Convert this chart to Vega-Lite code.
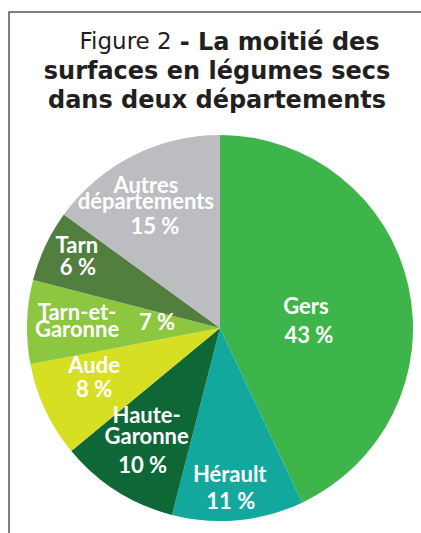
{
  "$schema": "https://vega.github.io/schema/vega-lite/v6.json",
  "autosize": {"type": "none"},
  "width": 422,
  "height": 632,
  "padding": {"left": 9, "top": 12, "right": -10, "bottom": -111},
  "background": "white",
  "view": {"stroke": "#555555", "strokeWidth": 1.5},
  "title": {
    "text": ["\u200b\u00a0\u00a0\u00a0\u00a0\u00a0\u00a0\u00a0\u00a0\u00a0\u00a0\u00a0\u00a0\u00a0\u00a0\u00a0- La moitié des", "surfaces en légumes secs", "dans deux départements"],
    "subtitle": "Figure 2\u00a0\u00a0\u00a0\u00a0\u00a0\u00a0\u00a0\u00a0\u00a0\u00a0\u00a0\u00a0\u00a0\u00a0\u00a0\u00a0\u00a0\u00a0\u00a0\u00a0\u00a0\u00a0\u00a0\u00a0\u00a0\u200b",
    "font": "DejaVu Sans",
    "fontSize": 24,
    "fontWeight": "bold",
    "color": "#231f20",
    "lineHeight": 29,
    "subtitleFont": "DejaVu Sans",
    "subtitleFontSize": 23,
    "subtitleFontWeight": "normal",
    "subtitleColor": "#231f20",
    "subtitlePadding": -82,
    "anchor": "middle",
    "frame": "group",
    "offset": -101,
    "dx": -3
  },
  "config": {
    "view": {"stroke": "#555555", "strokeWidth": 1.5},
    "text": {"font": "Lato", "fontSize": 22, "fontWeight": "bold", "fill": "white"}
  },
  "data": {
    "values": [
      {"nom": "Gers", "lignes": ["Gers"], "part": 43, "etiquette": "43 %", "ordre": 1},
      {"nom": "Hérault", "lignes": ["Hérault"], "part": 11, "etiquette": "11 %", "ordre": 2},
      {"nom": "Haute-Garonne", "lignes": ["Haute-", "Garonne"], "part": 10, "etiquette": "10 %", "ordre": 3},
      {"nom": "Aude", "lignes": ["Aude"], "part": 8, "etiquette": "8 %", "ordre": 4},
      {"nom": "Tarn-et-Garonne", "lignes": ["Tarn-et-", "Garonne"], "part": 7, "etiquette": "7 %", "ordre": 5},
      {"nom": "Tarn", "lignes": ["Tarn"], "part": 6, "etiquette": "6 %", "ordre": 6},
      {"nom": "Autres départements", "lignes": ["Autres", "départements"], "part": 15, "etiquette": "15 %", "ordre": 7}
    ]
  },
  "encoding": {
    "theta": {"field": "part", "type": "quantitative", "stack": true},
    "order": {"field": "ordre", "type": "quantitative"}
  },
  "layer": [
    {
      "mark": {"type": "arc", "outerRadius": 193},
      "encoding": {
        "color": {
          "field": "nom",
          "type": "nominal",
          "legend": null,
          "scale": {
            "domain": ["Gers", "Hérault", "Haute-Garonne", "Aude", "Tarn-et-Garonne", "Tarn", "Autres départements"],
            "range": ["#3db54a", "#13a89e", "#0e6737", "#d7df23", "#8dc63f", "#527f3f", "#bcbdc0"]
          }
        }
      }
    },
    {"mark": {"type": "text", "radius": 86, "dx": 2, "dy": 10, "baseline": "bottom"},
     "encoding": {"text": {"condition": {"test": "datum.ordre === 1", "field": "lignes", "type": "nominal"}, "value": ""}}},
    {"mark": {"type": "text", "radius": 86, "dx": 5, "dy": 34, "baseline": "alphabetic"},
     "encoding": {"text": {"condition": {"test": "datum.ordre === 1", "field": "etiquette", "type": "nominal"}, "value": ""}}},
    {"mark": {"type": "text", "radius": 167, "dx": -6, "dy": -7, "baseline": "bottom"},
     "encoding": {"text": {"condition": {"test": "datum.ordre === 2", "field": "lignes", "type": "nominal"}, "value": ""}}},
    {"mark": {"type": "text", "radius": 167, "dx": -5, "dy": 15, "baseline": "alphabetic"},
     "encoding": {"text": {"condition": {"test": "datum.ordre === 2", "field": "etiquette", "type": "nominal"}, "value": ""}}},
    {"mark": {"type": "text", "radius": 150, "dx": 7, "dy": -27, "baseline": "bottom", "lineHeight": 21},
     "encoding": {"text": {"condition": {"test": "datum.ordre === 3", "field": "lignes", "type": "nominal"}, "value": ""}}},
    {"mark": {"type": "text", "radius": 150, "dx": 3, "dy": 18, "baseline": "alphabetic"},
     "encoding": {"text": {"condition": {"test": "datum.ordre === 3", "field": "etiquette", "type": "nominal"}, "value": ""}}},
    {"mark": {"type": "text", "radius": 138, "dx": -1, "dy": -9, "baseline": "bottom"},
     "encoding": {"text": {"condition": {"test": "datum.ordre === 4", "field": "lignes", "type": "nominal"}, "value": ""}}},
    {"mark": {"type": "text", "radius": 138, "dx": -1, "dy": 10, "baseline": "alphabetic"},
     "encoding": {"text": {"condition": {"test": "datum.ordre === 4", "field": "etiquette", "type": "nominal"}, "value": ""}}},
    {"mark": {"type": "text", "radius": 143, "dx": 0, "dy": 1, "baseline": "bottom", "lineHeight": 17},
     "encoding": {"text": {"condition": {"test": "datum.ordre === 5", "field": "lignes", "type": "nominal"}, "value": ""}}},
    {"mark": {"type": "text", "radius": 63, "dx": 0, "dy": 4, "baseline": "alphabetic"},
     "encoding": {"text": {"condition": {"test": "datum.ordre === 5", "field": "etiquette", "type": "nominal"}, "value": ""}}},
    {"mark": {"type": "text", "radius": 156, "dx": -2, "dy": -4, "baseline": "bottom"},
     "encoding": {"text": {"condition": {"test": "datum.ordre === 6", "field": "lignes", "type": "nominal"}, "value": ""}}},
    {"mark": {"type": "text", "radius": 156, "dx": -1, "dy": 13, "baseline": "alphabetic"},
     "encoding": {"text": {"condition": {"test": "datum.ordre === 6", "field": "etiquette", "type": "nominal"}, "value": ""}}},
    {"mark": {"type": "text", "radius": 128, "dx": -16, "dy": -16, "baseline": "bottom", "lineHeight": 16},
     "encoding": {"text": {"condition": {"test": "datum.ordre === 7", "field": "lignes", "type": "nominal"}, "value": ""}}},
    {"mark": {"type": "text", "radius": 128, "dx": -7, "dy": 20, "baseline": "alphabetic"},
     "encoding": {"text": {"condition": {"test": "datum.ordre === 7", "field": "etiquette", "type": "nominal"}, "value": ""}}}
  ]
}
